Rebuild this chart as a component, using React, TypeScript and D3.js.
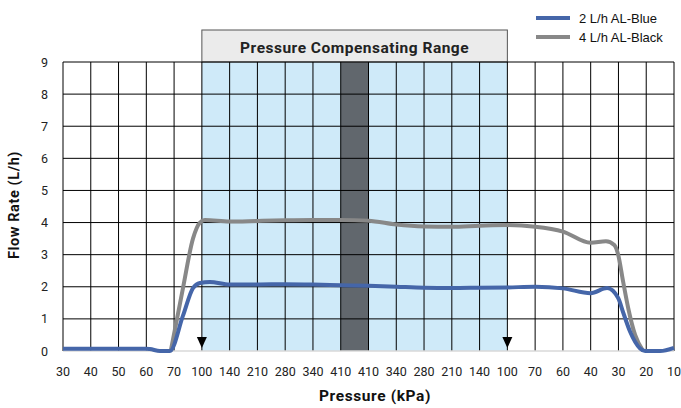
import React from "react";
import * as d3 from "d3";

const categories = ["30","40","50","60","70","100","140","210","280","340","410","410","340","280","210","140","100","70","60","40","30","20","10"];
const yTicks = [0,1,2,3,4,5,6,7,8,9];

// [category index position, flow rate]
const blueSeries: [number, number][] = [
  [0,0.07],[1,0.07],[2,0.07],[3,0.07],[3.13,0.06],[3.49,0],[3.85,0],[4.32,1.1],[4.68,1.96],[4.93,2.12],[5.29,2.15],
  [6,2.07],[7,2.07],[8,2.08],[9,2.07],[10,2.05],[11,2.03],[12,2.0],[13,1.97],[14,1.96],[15,1.97],[16,1.98],
  [17,2.0],[18,1.95],[19,1.8],[19.59,1.96],[19.99,1.65],[20.17,1.2],[20.42,0.6],[20.78,0.08],[20.96,0],[21.5,0],[22,0.1]
];
const graySeries: [number, number][] = [
  [3.88,0],[4.32,1.96],[4.68,3.5],[4.93,4.0],[5.11,4.08],[6,4.03],[7,4.05],[8,4.07],[9,4.08],[10,4.08],[11,4.06],
  [12,3.94],[13,3.88],[14,3.87],[15,3.9],[16,3.92],[17,3.87],[18,3.72],[19,3.37],[19.55,3.42],[19.85,3.3],
  [19.99,3.0],[20.17,2.15],[20.35,1.34],[20.6,0.5],[20.89,0]
];
const rangeStart = 5, rangeEnd = 16, bandStart = 10, bandEnd = 11;
const legendItems = [
  { label: "2 L/h AL-Blue", color: "#4566a9" },
  { label: "4 L/h AL-Black", color: "#888888" },
];

const W = 681, H = 408;
const L = 63, R = 674, T = 62, B = 351;

export default function App() {
  const x = d3.scaleLinear().domain([0, categories.length - 1]).range([L, R]);
  const y = d3.scaleLinear().domain([0, 9]).range([B, T]);
  const line = d3.line<[number, number]>().x(d => x(d[0])).y(d => y(d[1])).curve(d3.curveMonotoneX);
  const font = "Roboto, 'DejaVu Sans', sans-serif";
  return (
    <svg width={W} height={H} style={{ position: "absolute", left: 0, top: 0 }} fontFamily={font}>
      <rect x={0} y={0} width={W} height={H} fill="#fff" />
      {/* shaded range */}
      <rect x={x(rangeStart)} y={T} width={x(rangeEnd) - x(rangeStart)} height={B - T} fill="#cfeaf9" />
      <rect x={x(bandStart)} y={T} width={x(bandEnd) - x(bandStart)} height={B - T} fill="#61676d" />
      {/* title box */}
      <rect x={x(rangeStart)} y={30} width={x(rangeEnd) - x(rangeStart)} height={T - 30} fill="#ebebeb" stroke="#555" strokeWidth={1} />
      <text x={(x(rangeStart) + x(rangeEnd)) / 2} y={52.5} textAnchor="middle" fontWeight="bold" fontSize={15.5} letterSpacing={0.5} fill="#222">Pressure Compensating Range</text>
      {/* grid */}
      {yTicks.filter(t => t > 0).map(t => (
        <line key={"h" + t} x1={L} x2={R} y1={y(t)} y2={y(t)} stroke="#000" strokeWidth={1} />
      ))}
      {categories.map((c, i) => (
        <line key={"v" + i} x1={x(i)} x2={x(i)} y1={T} y2={B} stroke="#000" strokeWidth={1} />
      ))}
      <line x1={L} x2={R} y1={B} y2={B} stroke="#d9d9d9" strokeWidth={1.5} />
      {/* series */}
      <path d={line(graySeries) || ""} fill="none" stroke="#888888" strokeWidth={4} strokeLinejoin="round" />
      <path d={line(blueSeries) || ""} fill="none" stroke="#4566a9" strokeWidth={4} strokeLinejoin="round" />
      {/* arrows */}
      {[rangeStart, rangeEnd].map(i => (
        <path key={"a" + i} d={`M${x(i) - 5},${337} L${x(i) + 5},${337} L${x(i)},${348} Z`} fill="#000" />
      ))}
      {/* y tick labels */}
      {yTicks.map(t => (
        <text key={"yl" + t} x={48} y={y(t) + 4.5} textAnchor="end" fontSize={12.5} fill="#222">{t}</text>
      ))}
      {/* x tick labels */}
      {categories.map((c, i) => (
        <text key={"xl" + i} x={x(i)} y={376} textAnchor="middle" fontSize={12.5} fill="#222">{c}</text>
      ))}
      <text x={375} y={401} textAnchor="middle" fontWeight="bold" fontSize={15.5} letterSpacing={0.6} fill="#111">Pressure (kPa)</text>
      <text transform={`translate(19,205) rotate(-90)`} textAnchor="middle" fontWeight="bold" fontSize={14.5} letterSpacing={0.6} fill="#111">Flow Rate (L/h)</text>
      {/* legend */}
      {legendItems.map((it, i) => (
        <g key={"lg" + i} transform={`translate(536,${18 + i * 19})`}>
          <line x1={0} x2={34} y1={0} y2={0} stroke={it.color} strokeWidth={4} />
          <text x={43} y={4.5} fontSize={13} fontFamily="'Liberation Sans', Arial, sans-serif" fill="#111">{it.label}</text>
        </g>
      ))}
    </svg>
  );
}
